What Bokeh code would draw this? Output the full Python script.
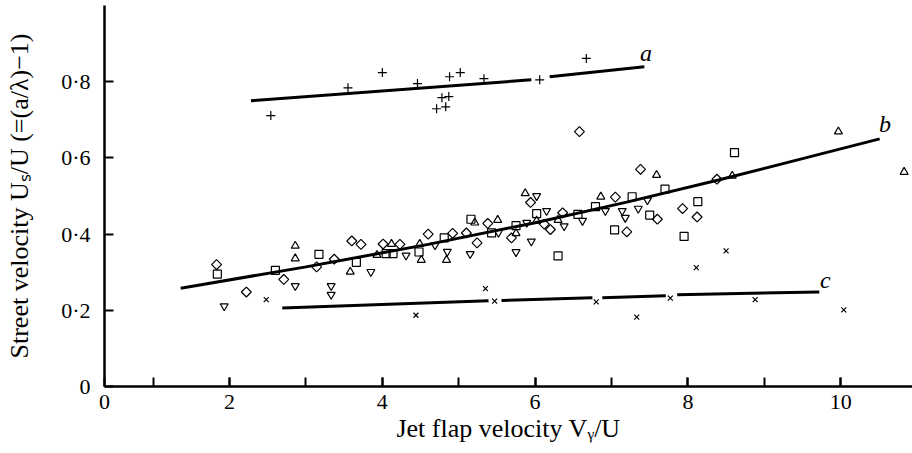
import numpy as np
from bokeh.plotting import figure
from bokeh.models import FixedTicker, Range1d
from bokeh.embed import file_html
from bokeh.resources import INLINE
from bokeh.core.properties import value

nan = float("nan")

# ---- series a (+) ----
a_x = [2.54, 3.55, 4.00, 4.46, 4.88, 5.02, 5.33, 6.06, 6.67, 4.78, 4.87, 4.71, 4.83]
a_y = [0.711, 0.784, 0.824, 0.795, 0.813, 0.824, 0.808, 0.805, 0.861, 0.758, 0.761, 0.729, 0.734]

# ---- series c (x) ----
c_x = [2.48, 4.44, 5.35, 5.47, 6.80, 7.33, 7.77, 8.11, 8.50, 8.88, 10.04]
c_y = [0.228, 0.187, 0.257, 0.224, 0.222, 0.182, 0.232, 0.312, 0.356, 0.228, 0.201]

# ---- series b: diamonds ----
bd_x = [1.83, 2.22, 2.71, 3.14, 3.37, 3.60, 3.72, 4.01, 4.23, 4.60, 4.92, 5.10, 5.24, 5.38,
        5.69, 5.94, 6.12, 6.20, 6.36, 6.58, 7.05, 7.20, 7.38, 7.60, 7.93, 8.12, 8.38]
bd_y = [0.320, 0.248, 0.281, 0.314, 0.334, 0.382, 0.373, 0.374, 0.373, 0.400, 0.402, 0.403, 0.377, 0.428,
        0.390, 0.483, 0.426, 0.412, 0.456, 0.669, 0.497, 0.406, 0.570, 0.439, 0.467, 0.445, 0.544]

# ---- series b: squares ----
bs_x = [1.84, 2.60, 3.17, 3.66, 4.05, 4.14, 4.48, 4.81, 5.16, 5.43, 5.75, 6.02, 6.30, 6.56,
        6.79, 7.04, 7.27, 7.50, 7.70, 7.95, 8.13, 8.61]
bs_y = [0.295, 0.305, 0.347, 0.326, 0.349, 0.349, 0.353, 0.390, 0.439, 0.403, 0.422, 0.454, 0.343, 0.452,
        0.472, 0.411, 0.498, 0.450, 0.518, 0.394, 0.485, 0.614]

# ---- series b: triangles ----
bt_x = [2.86, 2.86, 3.58, 3.93, 4.12, 4.49, 4.51, 4.84, 5.21, 5.51, 5.75, 5.87, 6.02, 6.30,
        6.86, 7.59, 8.58, 9.97, 10.83]
bt_y = [0.369, 0.336, 0.301, 0.345, 0.374, 0.374, 0.332, 0.332, 0.430, 0.437, 0.402, 0.507, 0.435, 0.437,
        0.498, 0.555, 0.553, 0.669, 0.563]

# ---- series b: inverted triangles ----
bi_x = [1.93, 2.86, 3.33, 3.33, 3.85, 4.31, 4.69, 4.85, 5.15, 5.52, 5.75, 5.89, 5.95, 6.02,
        6.15, 6.38, 6.62, 6.92, 7.14, 7.18, 7.35, 7.47]
bi_y = [0.211, 0.264, 0.264, 0.241, 0.301, 0.344, 0.371, 0.354, 0.348, 0.404, 0.353, 0.430, 0.381, 0.500,
        0.461, 0.421, 0.435, 0.461, 0.461, 0.443, 0.467, 0.489]

# ---- fitted lines (NaN = break in the drawn line) ----
line_a_x = [2.28, 5.95, nan, 6.19, 7.43]
line_a_y = [0.750, 0.805, nan, 0.813, 0.839]
line_b_x = [1.36, 3.0, 4.6, 6.0, 7.2, 8.4, 9.5, 10.51]
line_b_y = [0.258, 0.314, 0.373, 0.430, 0.484, 0.542, 0.598, 0.650]
line_c_x = [2.69, 5.39, nan, 5.56, 6.75, nan, 6.88, 7.71, nan, 7.86, 9.72]
line_c_y = [0.206, 0.225, nan, 0.226, 0.233, nan, 0.233, 0.238, nan, 0.241, 0.248]

curve_labels = ["a", "b", "c"]
curve_label_x = [7.45, 10.58, 9.80]
curve_label_y = [0.876, 0.689, 0.280]

x_ticks = [2, 4, 6, 8, 10]
x_minor = [1, 2, 3, 4, 5, 6, 7, 8, 9, 10, 11]
y_ticks = [0, 0.2, 0.4, 0.6, 0.8]
y_tick_labels = ["0", "0·2", "0·4", "0·6", "0·8"]

X_START = 0.363
FONT = "Liberation Serif"

p = figure(width=912, height=453, output_backend="svg", toolbar_location=None,
           x_range=Range1d(X_START, 10.94), y_range=Range1d(0, 1.0),
           min_border_left=104, min_border_right=0, min_border_top=5, min_border_bottom=67)
p.outline_line_color = None
p.grid.visible = False

mk = dict(line_color="black", fill_color=None, line_width=1.2)
p.scatter(a_x, a_y, marker="cross", size=9, **mk)
p.scatter(c_x, c_y, marker="x", size=7, **mk)
p.scatter(bd_x, bd_y, marker="square", angle=np.pi / 4, size=7, **mk)
p.scatter(bs_x, bs_y, marker="square", size=8, **mk)
p.scatter(bt_x, bt_y, marker="triangle", size=8, **mk)
p.scatter(bi_x, bi_y, marker="inverted_triangle", size=8, **mk)

for lx, ly in [(line_a_x, line_a_y), (line_b_x, line_b_y), (line_c_x, line_c_y)]:
    p.line(lx, ly, line_color="black", line_width=3)

p.text(curve_label_x, curve_label_y, text=curve_labels, text_font=value(FONT),
       text_font_style="italic", text_font_size="24px", text_align="center",
       text_baseline="middle", text_color="black")

# x axis
p.xaxis.ticker = FixedTicker(ticks=[X_START] + x_ticks, minor_ticks=x_minor)
p.xaxis.major_label_overrides = {X_START: "0"}
p.xaxis.axis_label = "Jet flap velocity Vᵧ/U"
# y axis
p.yaxis.ticker = FixedTicker(ticks=y_ticks, minor_ticks=[])
p.yaxis.major_label_overrides = dict(zip(y_ticks, y_tick_labels))
p.yaxis.axis_label = "Street velocity Uₛ/U (=(a/λ)−1)"

for ax in (p.xaxis[0], p.yaxis[0]):
    ax.axis_line_width = 2.5
    ax.axis_line_color = "black"
    ax.major_tick_in = 9
    ax.major_tick_out = 0
    ax.minor_tick_in = 9
    ax.minor_tick_out = 0
    ax.major_tick_line_width = 2
    ax.minor_tick_line_width = 2
    ax.major_tick_line_color = "black"
    ax.minor_tick_line_color = "black"
    ax.major_label_text_font = FONT
    ax.major_label_text_font_size = "22px"
    ax.major_label_text_color = "black"
    ax.axis_label_text_font = FONT
    ax.axis_label_text_font_size = "26px"
    ax.axis_label_text_font_style = "normal"
    ax.axis_label_text_color = "black"
p.xaxis.major_label_standoff = 8
p.xaxis.axis_label_standoff = 2
p.yaxis.major_label_standoff = 14
p.yaxis.axis_label_standoff = 24
p.yaxis.major_label_orientation = "horizontal"

open("out.html", "w").write(file_html(p, INLINE))
